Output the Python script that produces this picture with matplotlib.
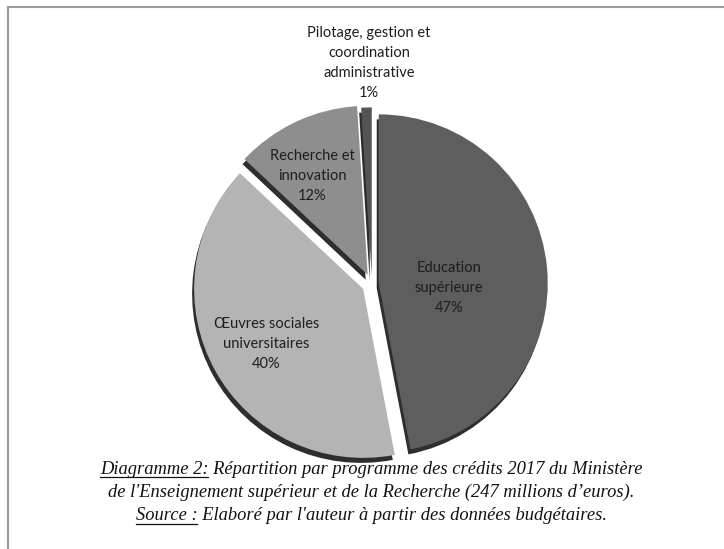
import matplotlib
matplotlib.use('Agg')
import matplotlib.pyplot as plt
from matplotlib.lines import Line2D
import numpy as np

# donnees
programmes = ['Education\nsupérieure', 'Œuvres sociales\nuniversitaires',
              'Recherche et\ninnovation', 'Pilotage, gestion et\ncoordination\nadministrative']
parts = [47, 40, 12, 1]
couleurs = ['#5e5e5e', '#b4b4b4', '#8e8e8e', '#555555']
ecarts = [0.04, 0.06, 0.06, 0.045]
dist_label = [0.40, 0.62, 0.66, 1.06]
decal = [(3, -11), (-5, -5), (-8, -2), (3, -3)]  # petits ajustements (px)

W, H = 724, 549
fig = plt.figure(figsize=(W / 100, H / 100), dpi=100)
ax = fig.add_axes([0, 0, 1, 1])

cx, cy, R = 372, H - 284, 169
expl = [e * R for e in ecarts]  # explode est en unites de donnees

# ombre (effet 3D)
ax.pie(parts, colors=['#2e2e2e'] * 4, explode=expl, startangle=90,
       counterclock=False, radius=R, center=(cx - 2, cy - 5),
       wedgeprops=dict(linewidth=0))
wedges, _ = ax.pie(parts, colors=couleurs, explode=expl, startangle=90,
                   counterclock=False, radius=R, center=(cx, cy),
                   wedgeprops=dict(linewidth=0))

for w, nom, p, d, (dx, dy) in zip(wedges, programmes, parts, dist_label, decal):
    ang = np.deg2rad((w.theta1 + w.theta2) / 2)
    x = w.center[0] + d * R * np.cos(ang) + dx
    y = w.center[1] + d * R * np.sin(ang) + dy
    va = 'bottom' if d > 1 else 'center'
    ax.text(x, y, nom + '\n' + str(p) + '%', ha='center', va=va,
            fontsize=10.5, family='Lato', color='#1e1e1e', linespacing=1.55)

ax.set_xlim(0, W)
ax.set_ylim(0, H)
ax.set_aspect('equal')
ax.axis('off')

# cadre
fig.add_artist(Line2D([8 / W, 1], [1 - 7 / H] * 2, transform=fig.transFigure,
                      color='#9a9a9a', lw=1.5))
fig.add_artist(Line2D([8 / W, 8 / W], [0, 1 - 7 / H], transform=fig.transFigure,
                      color='#9a9a9a', lw=1.5))

# legende du diagramme
lignes = [('Diagramme 2:', ' Répartition par programme des crédits 2017 du Ministère'),
          ('', "de l'Enseignement supérieur et de la Recherche (247 millions d’euros)."),
          ('Source :', " Elaboré par l'auteur à partir des données budgétaires.")]
ys = [469, 492, 516]
fp = dict(family='Liberation Serif', style='italic', fontsize=13.3, color='#111111')
rend = fig.canvas.get_renderer()
for (souligne, reste), yp in zip(lignes, ys):
    t = ax.text(371, H - yp, souligne + reste, ha='center', va='center', **fp)
    if souligne:
        bb = t.get_window_extent(rend)
        tmp = ax.text(0, 0, souligne, **fp)
        wl = tmp.get_window_extent(rend).width
        tmp.remove()
        yl = bb.y0 + 1
        fig.add_artist(Line2D([bb.x0 / W, (bb.x0 + wl) / W], [yl / H, yl / H],
                              transform=fig.transFigure, color='#111111', lw=0.9))

fig.savefig('out.png', dpi=100)
